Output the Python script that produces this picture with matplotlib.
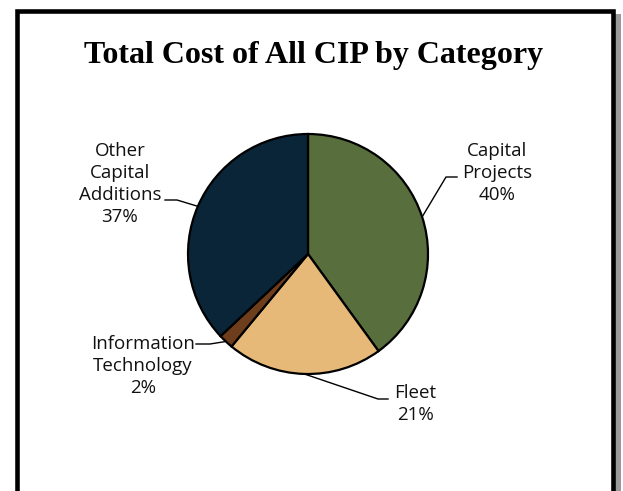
import numpy as np
import matplotlib.pyplot as plt
from matplotlib.patches import Rectangle

categories = ["Capital\nProjects", "Fleet", "Information\nTechnology", "Other\nCapital\nAdditions"]
shares = [40, 21, 2, 37]
colors = ["#586e3c", "#e6b978", "#6e3d1c", "#0b2538"]

# label block centres (pixels from top-left) and elbow of leader line
label_pos = [(497, 173), (415, 404), (143, 366), (120, 184)]
elbow = [(446, 177), (378, 399), (210, 344), (177, 200)]
elbow_end = [(457, 177), (388, 399), (196, 344), (165, 200)]

W, H = 623, 491
cx, cy, r = 308, 254, 120


def fy(y):
    # pixel row (from top) -> data y (from bottom)
    return H - y


fig = plt.figure(figsize=(W / 100, H / 100), dpi=100)
ax = fig.add_axes([0, 0, 1, 1])

wedges, _ = ax.pie(shares, colors=colors, startangle=90, counterclock=False,
                   radius=r, center=(cx, fy(cy)),
                   wedgeprops=dict(edgecolor="black", linewidth=1.6))
for w in wedges:
    w.set_zorder(3)

ax.set_xlim(0, W)
ax.set_ylim(0, H)
ax.set_aspect("equal")
ax.axis("off")

# frame with shadow
ax.add_patch(Rectangle((615, -10), 6, fy(14) + 10, facecolor="#9a9a9a", edgecolor="none", zorder=0))
ax.add_patch(Rectangle((17, -20), 595.5, fy(11) + 20, facecolor="white", edgecolor="black",
                       linewidth=3.3, zorder=1))

font = "Open Sans"
for w, name, val, lp, el, ee in zip(wedges, categories, shares, label_pos, elbow, elbow_end):
    ang = np.deg2rad((w.theta1 + w.theta2) / 2)
    px = cx + r * np.cos(ang)
    py = fy(cy) + r * np.sin(ang)
    ax.plot([px, el[0], ee[0]], [py, fy(el[1]), fy(ee[1])], color="black", lw=1.0, zorder=4)
    ax.text(lp[0], fy(lp[1]), f"{name}\n{val}%", ha="center", va="center",
            fontsize=13.5, family=font, linespacing=1.28, color="#111111", zorder=5)

ax.text(314, fy(55), "Total Cost of All CIP by Category", ha="center", va="center",
        fontsize=23, fontweight="bold", family="Liberation Serif", zorder=5)

fig.savefig("out.png", dpi=100)
